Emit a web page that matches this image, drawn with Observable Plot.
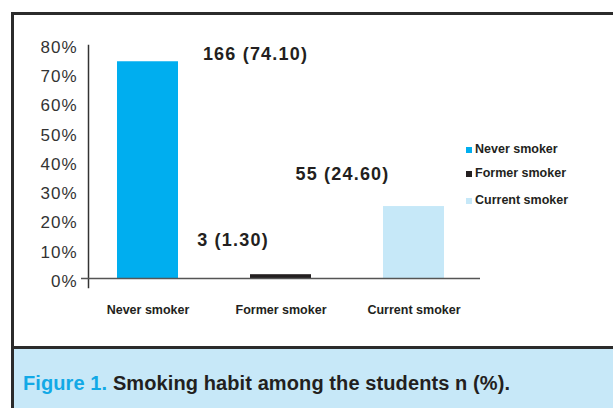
<!DOCTYPE html>
<html>
<head>
<meta charset="utf-8">
<script src="https://cdn.jsdelivr.net/npm/d3@7"></script>
<script src="https://cdn.jsdelivr.net/npm/@observablehq/plot@0.6"></script>
<style>
  html, body { margin: 0; padding: 0; background: #fff; }
  #wrap { position: relative; width: 613px; height: 408px; overflow: hidden; font-family: "Liberation Sans", Arial, sans-serif; }
  #frame { position: absolute; left: 11px; top: 12px; width: 640px; height: 420px; border-left: 3px solid #2b2b2b; border-top: 3px solid #2b2b2b; box-sizing: border-box; }
  #chart { position: absolute; left: 0; top: 0; }
  #caption { position: absolute; left: 11px; top: 346px; width: 640px; height: 80px; border-left: 3px solid #2b2b2b; border-top: 3px solid #2b2b2b; background: #c7e8f8; box-sizing: border-box; }
  #caption span.t { position: absolute; left: 9px; top: 23px; font-size: 20px; font-weight: bold; color: #231f20; white-space: nowrap; letter-spacing: 0.1px; }
  #caption span.fig { color: #12a9e6; }
  #legend { position: absolute; left: 466px; top: 142px; }
  .li { position: absolute; left: 0; white-space: nowrap; font-size: 12.5px; font-weight: bold; color: #231f20; }
  .sw { display: inline-block; width: 6px; height: 6px; margin-right: 3px; vertical-align: baseline; }
  g[aria-label="y-axis tick label"] text { letter-spacing: 1px; }
  g.dlabel text { letter-spacing: 1.2px; }
</style>
</head>
<body>
<div id="wrap">
  <div id="frame"></div>
  <div id="chart"></div>
  <div id="legend"></div>
  <div id="caption"><span class="t"><span class="fig">Figure 1.</span> Smoking habit among the students n (%).</span></div>
</div>
<script>
const categories = ["Never smoker", "Former smoker", "Current smoker"];
const counts = [166, 3, 55];
const percents = [74.1, 1.3, 24.6];
const colors = ["#00aeef", "#231f20", "#c6e8f8"];
const yTicks = [0, 10, 20, 30, 40, 50, 60, 70, 80];

const data = categories.map((c, i) => ({cat: c, n: counts[i], pct: percents[i], label: `${counts[i]} (${percents[i].toFixed(2)})`}));

const labelMark = (cat, dx, dy) => Plot.text(data.filter(d => d.cat === cat), {
  x: "cat", y: "pct", text: "label", dx, dy,
  fontSize: 18, fontWeight: "bold", fill: "#231f20", lineAnchor: "middle", textAnchor: "middle",
  className: "dlabel"
});

const plot = Plot.plot({
  width: 613,
  height: 346,
  marginLeft: 81,
  marginRight: 133,
  marginTop: 44,
  marginBottom: 68,
  style: {fontFamily: "'Liberation Sans', Arial, sans-serif", background: "transparent", overflow: "visible"},
  x: {domain: categories, paddingInner: 0.54, paddingOuter: 0.27, label: null},
  y: {domain: [0, 80], label: null},
  color: {domain: categories, range: colors},
  marks: [
    Plot.barY(data, {x: "cat", y: "pct", fill: "cat"}),
    Plot.frame({anchor: "left", dx: 7, insetTop: 1, insetBottom: -9, stroke: "#333", strokeWidth: 1.5}),
    Plot.ruleY([0], {stroke: "#555", strokeWidth: 1.5}),
    Plot.axisY({ticks: yTicks, tickFormat: d => d + "%", tickSize: 0, tickPadding: 4, dy: 3, fontSize: 17, fill: "#333", label: null}),
    Plot.axisX({tickSize: 0, tickPadding: 27, fontSize: 12.5, fontWeight: "bold", fill: "#231f20", label: null}),
    labelMark("Never smoker", 107.5, -8),
    labelMark("Former smoker", -48, -34),
    labelMark("Current smoker", -71.5, -32)
  ]
});
document.getElementById("chart").appendChild(plot);

const legend = document.getElementById("legend");
const legendTops = [0, 24, 51];
categories.forEach((c, i) => {
  const d = document.createElement("div");
  d.className = "li";
  d.style.top = legendTops[i] + "px";
  d.innerHTML = `<span class="sw" style="background:${colors[i]}"></span>${c}`;
  legend.appendChild(d);
});
</script>
</body>
</html>
